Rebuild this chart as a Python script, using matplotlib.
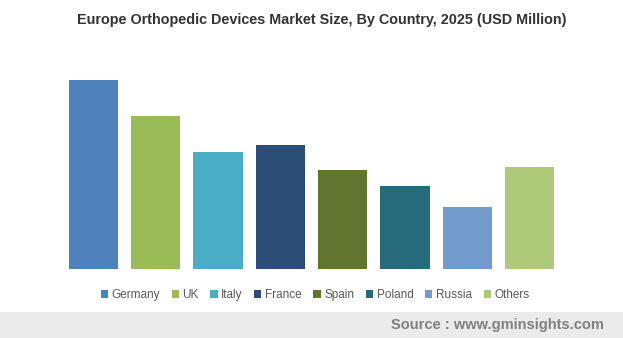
import matplotlib.pyplot as plt
from matplotlib.patches import Rectangle, Patch

countries = ["Germany", "UK", "Italy", "France", "Spain", "Poland", "Russia", "Others"]
values = [1890, 1530, 1170, 1240, 990, 830, 620, 1020]
colors = ["#4f81bd", "#9bbb59", "#4bacc6", "#2c4d75", "#5f7530", "#276a7c", "#729aca", "#afc97a"]

plt.rcParams["font.family"] = ["Liberation Sans", "DejaVu Sans"]

fig = plt.figure(figsize=(6.23, 3.38), dpi=100)
ax = fig.add_axes([62 / 623, 69 / 338, 499 / 623, 189 / 338])

x = range(len(countries))
ax.bar(x, values, width=0.79, color=colors)
ax.set_xlim(-0.5, 7.5)
ax.set_ylim(0, max(values))
ax.axis("off")

fig.text(322 / 623, 1 - 20 / 338, "Europe Orthopedic Devices Market Size, By Country, 2025 (USD Million)",
         ha="center", va="center", fontsize=10.4, fontweight="bold", color="#333333")

handles = [Patch(facecolor=c, edgecolor="none") for c in colors]
fig.legend(handles, countries, loc="center", bbox_to_anchor=(315 / 623, 1 - 295 / 338), ncol=8,
           frameon=False, fontsize=8.5, handlelength=0.6, handleheight=0.6, handletextpad=0.3,
           columnspacing=1.0, labelcolor="#595959")

# footer band
fig.patches.append(Rectangle((0, 0), 1, 26 / 338, transform=fig.transFigure,
                             facecolor="#ebebeb", edgecolor="none", zorder=0))
fig.text(604 / 623, 13 / 338, "Source : www.gminsights.com", ha="right", va="center",
         fontsize=10.5, fontweight="bold", color="#7f7f7f")

fig.savefig("out.png", dpi=100)
